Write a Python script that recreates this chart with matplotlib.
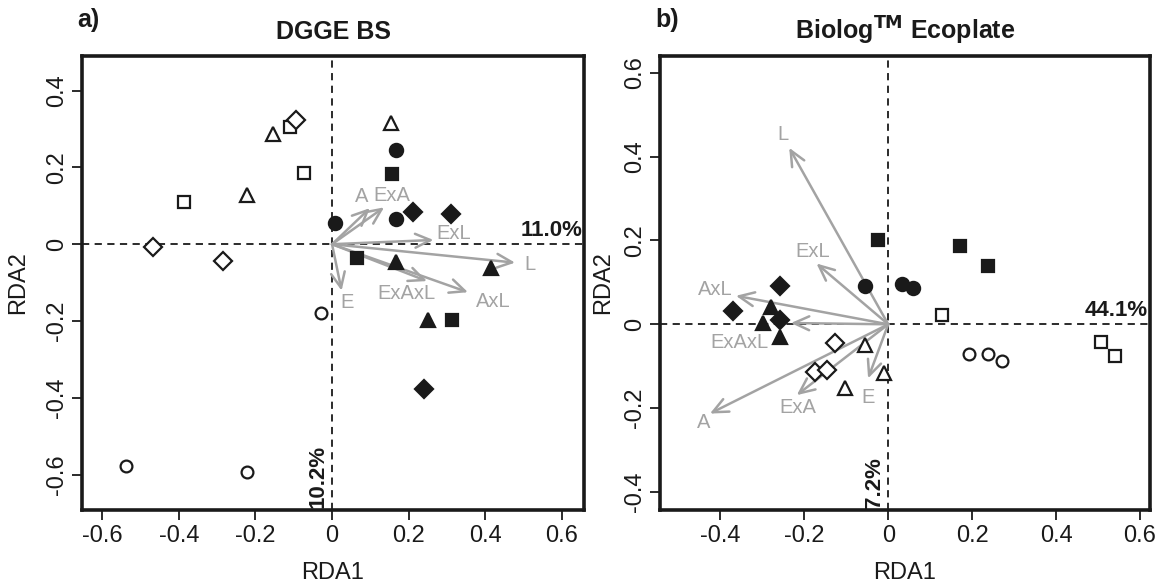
import matplotlib
matplotlib.use("Agg")
import matplotlib.pyplot as plt
from matplotlib.patches import ArrowStyle

plt.rcParams['font.family'] = ['Liberation Sans', 'DejaVu Sans']

# ---------------- data ----------------
# sample scores, panel a) DGGE BS
dgge_rda1 = [-0.028, -0.539, -0.223,   0.008, 0.166, 0.166,
             -0.386, -0.110, -0.072,   0.157, 0.066, 0.313,
             -0.221, -0.155, 0.153,    0.167, 0.414, 0.250,
             -0.468, -0.284, -0.094,   0.212, 0.310, 0.239]
dgge_rda2 = [-0.178, -0.577, -0.594,   0.054, 0.246, 0.066,
             0.110, 0.304, 0.186,      0.182, -0.035, -0.197,
             0.127, 0.288, 0.315,      -0.047, -0.061, -0.197,
             -0.008, -0.043, 0.323,    0.083, 0.079, -0.376]

# sample scores, panel b) Biolog Ecoplate
eco_rda1 = [0.193, 0.238, 0.272,    -0.056, 0.033, 0.060,
            0.129, 0.507, 0.540,    -0.025, 0.171, 0.238,
            -0.056, -0.103, -0.010, -0.280, -0.299, -0.258,
            -0.127, -0.175, -0.147, -0.258, -0.370, -0.258]
eco_rda2 = [-0.070, -0.070, -0.087, 0.091, 0.095, 0.087,
            0.023, -0.043, -0.075,  0.200, 0.186, 0.138,
            -0.050, -0.151, -0.116, 0.041, 0.003, -0.030,
            -0.044, -0.114, -0.110, 0.091, 0.032, 0.011]

# treatment group of each sample (same order in both panels)
groups = (["circle_open"] * 3 + ["circle_filled"] * 3 +
          ["square_open"] * 3 + ["square_filled"] * 3 +
          ["triangle_open"] * 3 + ["triangle_filled"] * 3 +
          ["diamond_open"] * 3 + ["diamond_filled"] * 3)

# constraining variables (biplot arrows)
vectors = ["A", "ExA", "ExL", "L", "AxL", "ExAxL", "E"]
dgge_vec_rda1 = [0.099, 0.136, 0.265, 0.478, 0.355, 0.248, 0.025]
dgge_vec_rda2 = [0.094, 0.096, 0.011, -0.048, -0.125, -0.096, -0.121]
eco_vec_rda1 = [-0.425, -0.218, -0.171, -0.236, -0.363, -0.232, -0.048]
eco_vec_rda2 = [-0.213, -0.169, 0.145, 0.421, 0.068, 0.003, -0.129]

# explained variance of the axes (%)
dgge_var = (11.0, 10.2)
eco_var = (44.1, 7.2)

ticks_x_a = [-0.6, -0.4, -0.2, 0, 0.2, 0.4, 0.6]
ticks_y_a = [-0.6, -0.4, -0.2, 0, 0.2, 0.4]
ticks_x_b = [-0.4, -0.2, 0, 0.2, 0.4, 0.6]
ticks_y_b = [-0.4, -0.2, 0, 0.2, 0.4, 0.6]

# ---------------- styling ----------------
marker_style = {
    "circle_open": ("o", False, 8.5), "circle_filled": ("o", True, 9.5),
    "square_open": ("s", False, 9), "square_filled": ("s", True, 9),
    "triangle_open": ("^", False, 10), "triangle_filled": ("^", True, 10),
    "diamond_open": ("D", False, 9), "diamond_filled": ("D", True, 9.5),
}

# label nudges (data units) relative to the arrow tips
nudge_a = [(-0.021, 0.030), (0.020, 0.030), (0.052, 0.018), (0.040, -0.006),
           (0.067, -0.023), (-0.055, -0.032), (0.013, -0.030)]
nudge_b = [(-0.016, -0.022), (0.003, -0.030), (-0.008, 0.028), (-0.014, 0.032),
           (-0.050, 0.014), (-0.123, -0.047), (0.0, -0.046)]

GREY = "#a3a3a3"
INK = "#1a1a1a"

fig = plt.figure(figsize=(11.6, 5.87), dpi=100)
ax_a = fig.add_axes([82 / 1160, 77 / 587, 502 / 1160, 454 / 587])
ax_b = fig.add_axes([660 / 1160, 77 / 587, 490 / 1160, 454 / 587])


def draw_panel(ax, xs, ys, vx, vy, nudges, var, xlim, ylim, xt, yt, ypad):
    ax.set_xlim(*xlim)
    ax.set_ylim(*ylim)
    ax.axhline(0, color=INK, lw=1.3, ls=(0, (4, 3)), zorder=1)
    ax.axvline(0, color=INK, lw=1.3, ls=(0, (4, 3)), zorder=1)

    head = ArrowStyle("->", head_length=0.55, head_width=0.25)
    for name, x, y, (dx, dy) in zip(vectors, vx, vy, nudges):
        ax.annotate("", xy=(x, y), xytext=(0, 0),
                    arrowprops=dict(arrowstyle=head, color=GREY, lw=1.8,
                                    shrinkA=0, shrinkB=0, mutation_scale=20),
                    zorder=2)
        ax.text(x + dx, y + dy, name, color=GREY, fontsize=14.5,
                ha="center", va="center", zorder=2)

    for g in marker_style:
        mk, filled, ms = marker_style[g]
        px = [x for x, gg in zip(xs, groups) if gg == g]
        py = [y for y, gg in zip(ys, groups) if gg == g]
        ax.plot(px, py, ls="none", marker=mk, ms=ms,
                mfc=INK if filled else "white", mec=INK,
                mew=1.6, zorder=3)

    ax.text(xlim[1] - 0.005, 0.008, f"{var[0]:.1f}%", fontsize=16,
            fontweight="bold", ha="right", va="bottom", color=INK, zorder=4)
    ax.text(-0.008, ylim[0] + 0.005, f"{var[1]:.1f}%", fontsize=16,
            fontweight="bold", ha="right", va="bottom", rotation=90,
            color=INK, zorder=4)

    ax.set_xticks(xt)
    ax.set_xticklabels(["0" if v == 0 else f"{v:.1f}" for v in xt])
    ax.set_yticks(yt)
    ax.set_yticklabels(["0" if v == 0 else f"{v:.1f}" for v in yt],
                       rotation=90, va="center")
    ax.tick_params(direction="out", length=7, width=1.3, labelsize=17,
                   colors=INK)
    ax.tick_params(axis="x", pad=4)
    ax.tick_params(axis="y", pad=3)
    for s in ax.spines.values():
        s.set_linewidth(2.6)
        s.set_color(INK)
    ax.set_xlabel("RDA1", fontsize=17, labelpad=10.5, color=INK)
    ax.set_ylabel("RDA2", fontsize=17, labelpad=ypad, color=INK)


draw_panel(ax_a, dgge_rda1, dgge_rda2, dgge_vec_rda1, dgge_vec_rda2, nudge_a,
           dgge_var, (-0.653, 0.658), (-0.692, 0.49),
           ticks_x_a, ticks_y_a, 12.5)
draw_panel(ax_b, eco_rda1, eco_rda2, eco_vec_rda1, eco_vec_rda2, nudge_b,
           eco_var, (-0.544, 0.624), (-0.443, 0.64),
           ticks_x_b, ticks_y_b, 7)

ax_a.set_title("DGGE BS", fontsize=18, fontweight="bold", pad=12, color=INK)
ax_b.set_title(r"Biolog$^{\mathbf{TM}}$ Ecoplate", fontsize=18,
               fontweight="bold", pad=12, color=INK)
fig.text(77 / 1160, 1 - 20 / 587, "a)", fontsize=18, fontweight="bold",
         ha="left", va="center", color=INK)
fig.text(655 / 1160, 1 - 20 / 587, "b)", fontsize=18, fontweight="bold",
         ha="left", va="center", color=INK)

fig.savefig("out.png", dpi=100)
